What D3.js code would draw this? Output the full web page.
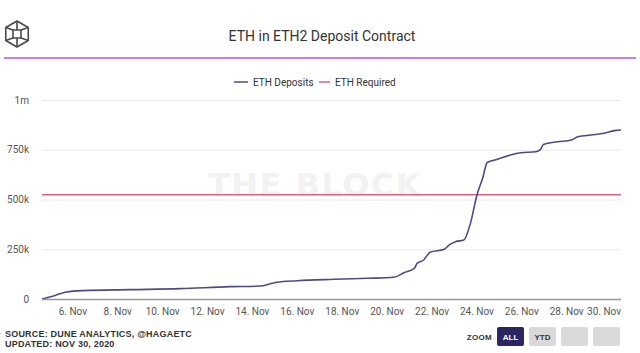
<!DOCTYPE html>
<html>
<head>
<meta charset="utf-8">
<script src="https://cdn.jsdelivr.net/npm/d3@7"></script>
<style>
  html, body { margin: 0; padding: 0; background: #fff; }
  svg { display: block; font-family: Roboto, "Noto Sans", sans-serif; }
</style>
</head>
<body>
<div id="chart"></div>
<script>
(function () {
  "use strict";

  // deposit series (Nov 2020)
  const DATES = [
    "2020-11-04T15:00", "2020-11-05T05:00", "2020-11-05T17:00", "2020-11-06T11:00",
    "2020-11-08T13:00", "2020-11-10T19:00", "2020-11-13T00:00", "2020-11-14T08:00",
    "2020-11-14T21:00", "2020-11-15T02:00", "2020-11-16T00:00", "2020-11-17T15:00",
    "2020-11-19T03:00", "2020-11-20T07:00", "2020-11-20T18:00", "2020-11-21T05:00",
    "2020-11-21T08:00", "2020-11-21T15:00", "2020-11-21T22:00", "2020-11-22T13:00",
    "2020-11-22T18:00", "2020-11-23T01:00", "2020-11-23T10:00", "2020-11-23T17:00",
    "2020-11-24T00:00", "2020-11-24T06:00", "2020-11-24T11:00", "2020-11-24T22:00",
    "2020-11-25T12:00", "2020-11-25T23:00", "2020-11-26T15:00", "2020-11-26T20:00",
    "2020-11-26T23:00", "2020-11-27T14:00", "2020-11-28T05:00", "2020-11-28T12:00",
    "2020-11-29T02:00", "2020-11-29T16:00", "2020-11-30T03:00", "2020-11-30T10:00"
  ];
  const DEPOSITS = [
    0, 18000, 35000, 42000,
    47000, 52000, 62000, 65000,
    79000, 84000, 92000, 99000,
    104000, 109000, 132000, 154000,
    179000, 196000, 235000, 250000,
    271000, 288000, 296000, 380000,
    523000, 606000, 686000, 702000,
    724000, 735000, 740000, 752000,
    777000, 790000, 799000, 815000,
    824000, 833000, 846000, 849000
  ];
  const REQUIRED = 524288;
  const Y_TICKS = [0, 250000, 500000, 750000, 1000000];
  const Y_LABELS = ["0", "250k", "500k", "750k", "1m"];
  const X_START = "2020-11-04T15:00";
  const X_END = "2020-11-30T10:00";
  const ZOOM_BUTTONS = ["ALL", "YTD", "", ""];

  const width = 640;
  const height = 353;
  const plotLeft = 42;
  const plotRight = 621;
  const plotTop = 100;
  const plotBottom = 299;

  const depositColor = "#4f4a86";
  const requiredColor = "#e0607e";

  const parse = d3.timeParse("%Y-%m-%dT%H:%M");
  const data = DATES.map((d, i) => ({ date: parse(d), value: DEPOSITS[i] }));

  const svg = d3.select("#chart").append("svg")
    .attr("width", width)
    .attr("height", height);

  // logo (wireframe cube)
  const logo = svg.append("g")
    .attr("transform", "translate(17,34)")
    .attr("fill", "none")
    .attr("stroke", "#4a4a4a")
    .attr("stroke-width", 1.6)
    .attr("stroke-linejoin", "round");
  const R = 13;
  const hex = d3.range(6).map((i) => {
    const a = Math.PI / 3 * i - Math.PI / 2;
    return [R * Math.cos(a), R * Math.sin(a)];
  });
  logo.append("path").attr("d", "M" + hex.map((p) => p.join(",")).join("L") + "Z");
  const inner = [[-4, -4], [4, -4], [4, 4], [-4, 4]];
  logo.append("path").attr("d", "M" + inner.map((p) => p.join(",")).join("L") + "Z");
  logo.append("path").attr("d",
    `M${hex[5][0]},${hex[5][1]}L-4,-4M${hex[1][0]},${hex[1][1]}L4,-4` +
    `M${hex[2][0]},${hex[2][1]}L4,4M${hex[4][0]},${hex[4][1]}L-4,4` +
    `M${hex[0][0]},${hex[0][1]}L0,-4M${hex[3][0]},${hex[3][1]}L0,4`);

  // title
  svg.append("text")
    .attr("x", 322)
    .attr("y", 41)
    .attr("text-anchor", "middle")
    .attr("font-size", 14)
    .attr("fill", "#333")
    .text("ETH in ETH2 Deposit Contract");

  svg.append("line")
    .attr("x1", 4).attr("x2", 636)
    .attr("y1", 58).attr("y2", 58)
    .attr("stroke", "#c04cf4")
    .attr("stroke-width", 1.5);

  // legend
  const legend = svg.append("g").attr("font-size", 10).attr("fill", "#333");
  legend.append("line").attr("x1", 234).attr("x2", 248).attr("y1", 82).attr("y2", 82)
    .attr("stroke", depositColor).attr("stroke-width", 1.5);
  legend.append("text").attr("x", 253).attr("y", 85.5).text("ETH Deposits");
  legend.append("line").attr("x1", 319).attr("x2", 330).attr("y1", 82).attr("y2", 82)
    .attr("stroke", requiredColor).attr("stroke-width", 1.5);
  legend.append("text").attr("x", 335).attr("y", 85.5).text("ETH Required");

  // scales
  const x = d3.scaleTime()
    .domain([parse(X_START), parse(X_END)])
    .range([plotLeft, plotRight]);
  const y = d3.scaleLinear()
    .domain([0, 1000000])
    .range([plotBottom, plotTop]);

  // watermark
  svg.append("text")
    .attr("x", 315)
    .attr("y", 196)
    .attr("text-anchor", "middle")
    .attr("font-family", "'DejaVu Sans', sans-serif")
    .attr("font-size", 32)
    .attr("font-weight", "bold")
    .attr("letter-spacing", 1.5)
    .attr("fill", "#f2f2f2")
    .text("THE BLOCK");

  // y grid + labels
  const yAxis = svg.append("g");
  yAxis.selectAll("line")
    .data(Y_TICKS.filter((t) => t > 0))
    .join("line")
    .attr("x1", plotLeft).attr("x2", plotRight)
    .attr("y1", (d) => y(d) + 0.5).attr("y2", (d) => y(d) + 0.5)
    .attr("stroke", "#e8e8e8");
  yAxis.selectAll("text")
    .data(Y_TICKS)
    .join("text")
    .attr("x", 29)
    .attr("y", (d) => y(d) + 3.5)
    .attr("text-anchor", "end")
    .attr("font-size", 10)
    .attr("fill", "#555")
    .text((d, i) => Y_LABELS[i]);

  // x axis
  const xTicks = d3.timeDay.range(parse("2020-11-06T00:00"), parse("2020-12-01T00:00"), 2);
  const fmt = d3.timeFormat("%-d. %b");
  svg.append("g")
    .selectAll("text")
    .data(xTicks)
    .join("text")
    .attr("x", (d, i) => i === xTicks.length - 1 ? plotRight : x(d))
    .attr("y", 315)
    .attr("text-anchor", (d, i) => i === xTicks.length - 1 ? "end" : "middle")
    .attr("font-size", 10)
    .attr("fill", "#555")
    .text(fmt);

  // required line
  svg.append("line")
    .attr("x1", plotLeft).attr("x2", plotRight)
    .attr("y1", y(REQUIRED)).attr("y2", y(REQUIRED))
    .attr("stroke", requiredColor)
    .attr("stroke-width", 1.5);

  // deposits line
  svg.append("path")
    .datum(data)
    .attr("fill", "none")
    .attr("stroke", depositColor)
    .attr("stroke-width", 1.6)
    .attr("stroke-linejoin", "round")
    .attr("d", d3.line()
      .curve(d3.curveMonotoneX)
      .x((d) => x(d.date))
      .y((d) => y(d.value)));

  svg.append("line")
    .attr("x1", plotLeft).attr("x2", plotRight)
    .attr("y1", plotBottom + 0.5).attr("y2", plotBottom + 0.5)
    .attr("stroke", "#999")
    .attr("stroke-width", 1.5);

  // footer
  const foot = svg.append("g")
    .attr("font-family", "'Liberation Sans', Arial, sans-serif")
    .attr("font-size", 9)
    .attr("font-weight", "bold")
    .attr("fill", "#333")
    .attr("letter-spacing", 0.2);
  foot.append("text").attr("x", 5).attr("y", 337).text("SOURCE: DUNE ANALYTICS, @HAGAETC");
  foot.append("text").attr("x", 5).attr("y", 347).text("UPDATED: NOV 30, 2020");

  // zoom buttons
  svg.append("text")
    .attr("x", 492).attr("y", 339.5)
    .attr("text-anchor", "end")
    .attr("font-family", "'Liberation Sans', Arial, sans-serif")
    .attr("font-size", 8)
    .attr("font-weight", "bold")
    .attr("fill", "#333")
    .attr("letter-spacing", 0.3)
    .text("ZOOM");
  const btn = svg.append("g").selectAll("g")
    .data(ZOOM_BUTTONS)
    .join("g")
    .attr("transform", (d, i) => `translate(${497 + i * 32},327)`);
  btn.append("rect")
    .attr("width", 27).attr("height", 19).attr("rx", 2)
    .attr("fill", (d, i) => i === 0 ? "#2b2562" : "#d9d9d9");
  btn.append("text")
    .attr("x", 13.5).attr("y", 12.5)
    .attr("text-anchor", "middle")
    .attr("font-family", "'Liberation Sans', Arial, sans-serif")
    .attr("font-size", 8)
    .attr("font-weight", "bold")
    .attr("fill", (d, i) => i === 0 ? "#fff" : "#333")
    .text((d) => d);
})();
</script>
</body>
</html>
